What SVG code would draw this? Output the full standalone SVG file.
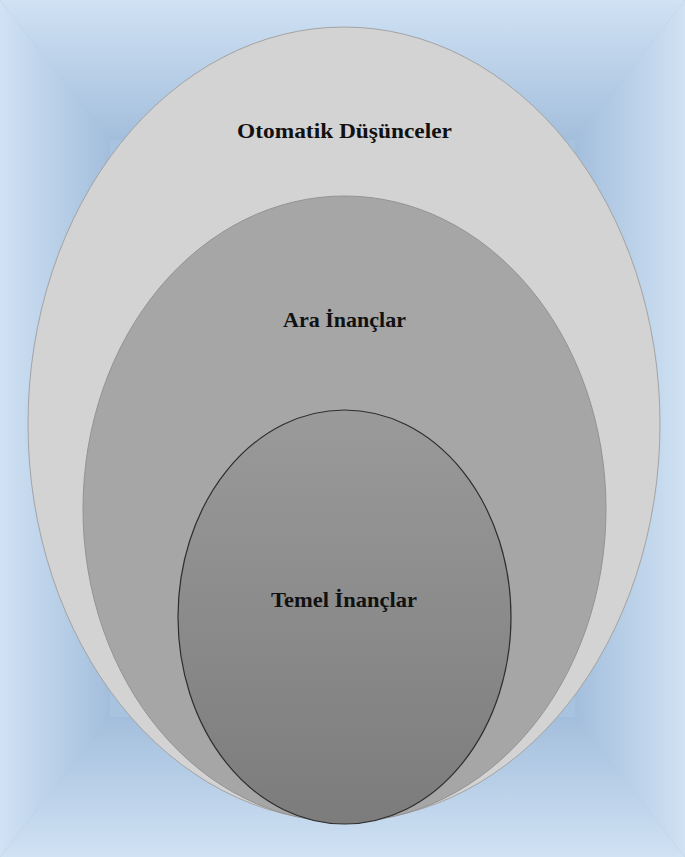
<svg xmlns="http://www.w3.org/2000/svg" width="685" height="857" viewBox="0 0 685 857">
<style>
.lbl{font-family:"Liberation Serif","Times New Roman",serif;font-weight:bold;font-size:22px;fill:#111;text-anchor:middle}
</style>
<defs>
<linearGradient id="gt" x1="0" y1="0" x2="0" y2="140" gradientUnits="userSpaceOnUse"><stop offset="0" stop-color="#d0e2f4"/><stop offset="1" stop-color="#a3bedc"/></linearGradient>
<linearGradient id="gb" x1="0" y1="857" x2="0" y2="717" gradientUnits="userSpaceOnUse"><stop offset="0" stop-color="#d0e2f4"/><stop offset="1" stop-color="#a3bedc"/></linearGradient>
<linearGradient id="gl" x1="0" y1="0" x2="110" y2="0" gradientUnits="userSpaceOnUse"><stop offset="0" stop-color="#d0e2f4"/><stop offset="1" stop-color="#a3bedc"/></linearGradient>
<linearGradient id="gr" x1="685" y1="0" x2="575" y2="0" gradientUnits="userSpaceOnUse"><stop offset="0" stop-color="#d0e2f4"/><stop offset="1" stop-color="#a3bedc"/></linearGradient>
<linearGradient id="gin" x1="0" y1="0" x2="0" y2="1"><stop offset="0" stop-color="#9a9a9a"/><stop offset="1" stop-color="#7c7c7c"/></linearGradient>
</defs>
<g id="background">
<rect x="0" y="0" width="685" height="857" fill="#a8c3df"/>
<polygon points="0,0 685,0 575,140 110,140" fill="url(#gt)"/>
<polygon points="0,857 685,857 575,717 110,717" fill="url(#gb)"/>
<polygon points="0,0 110,140 110,717 0,857" fill="url(#gl)"/>
<polygon points="685,0 575,140 575,717 685,857" fill="url(#gr)"/>
</g>
<g id="connectors"></g>
<g id="otomatik">
<ellipse cx="344" cy="424" rx="316" ry="397" fill="#d3d3d3" stroke="#a3a3a3" stroke-width="1"/>
<text class="lbl" x="344.5" y="138" textLength="215" lengthAdjust="spacingAndGlyphs">Otomatik Düşünceler</text>
</g>
<g id="ara">
<ellipse cx="344.5" cy="509" rx="261.5" ry="313" fill="#a6a6a6" stroke="#939393" stroke-width="1"/>
<text class="lbl" x="344.5" y="327" textLength="123" lengthAdjust="spacingAndGlyphs">Ara İnançlar</text>
</g>
<g id="temel">
<ellipse cx="344.5" cy="617" rx="166.5" ry="207" fill="url(#gin)" stroke="#2e2e2e" stroke-width="1.2"/>
<text class="lbl" x="344" y="607" textLength="146" lengthAdjust="spacingAndGlyphs">Temel İnançlar</text>
</g>
</svg>
